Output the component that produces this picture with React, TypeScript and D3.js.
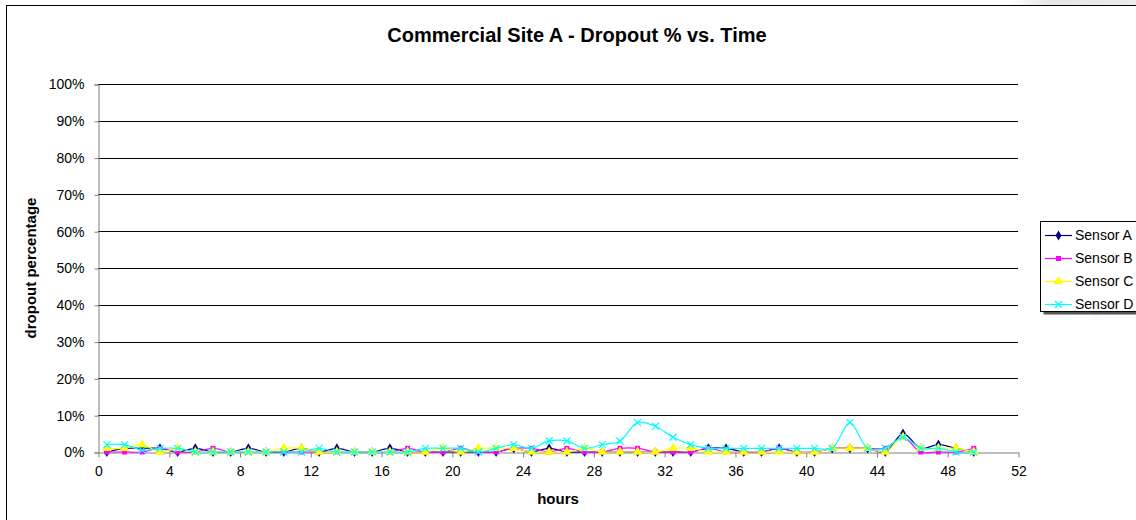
import React, { useRef, useEffect } from "react";
import * as d3 from "d3";

const hours = [
    0.5, 1.5, 2.5, 3.5, 4.5, 5.5, 6.5, 7.5, 8.5, 9.5,
    10.5, 11.5, 12.5, 13.5, 14.5, 15.5, 16.5, 17.5, 18.5, 19.5,
    20.5, 21.5, 22.5, 23.5, 24.5, 25.5, 26.5, 27.5, 28.5, 29.5,
    30.5, 31.5, 32.5, 33.5, 34.5, 35.5, 36.5, 37.5, 38.5, 39.5,
    40.5, 41.5, 42.5, 43.5, 44.5, 45.5, 46.5, 47.5, 48.5, 49.5,
];

const sensorA = [
    0, 1, 1, 1, 0, 1, 0, 0, 1, 0,
    0, 1, 0, 1, 0, 0, 1, 0, 0, 0,
    0, 0, 0, 1, 0, 1, 0, 0, 0, 0,
    0, 0, 0, 0, 1, 1, 0, 0, 1, 0,
    0, 1, 1, 1, 0, 5, 1, 2, 1, 0,
];
const sensorB = [
    0, 0, 0, 1, 0, 0, 1, 0, 0, 0,
    0, 0, 0, 0, 0, 0, 0, 1, 0, 0,
    1, 0, 0, 1, 1, 0, 1, 0, 0, 1,
    1, 0, 0, 0, 1, 0, 0, 0, 1, 0,
    0, 1, 1, 1, 1, 4, 0, 0, 0, 1,
];
const sensorC = [
    1, 1, 2, 0, 1, 0, 0, 0, 0, 0,
    1, 1, 0, 0, 0, 0, 0, 0, 0, 1,
    0, 1, 1, 1, 0, 0, 0, 1, 0, 0,
    0, 0, 1, 1, 0, 0, 0, 0, 0, 0,
    0, 1, 1, 1, 0, 4, 1, 1, 1, 0,
];
const sensorD = [
    2, 2, 0.5, 1, 1, 0, 0, 0, 0, 0,
    0, 0, 1, 0, 0, 0, 0, 0, 1, 1,
    1, 0, 1, 2, 1, 3, 3, 1, 2, 3,
    8, 7, 4, 2, 1, 1, 1, 1, 1, 1,
    1, 1, 8, 1, 1, 4, 1, 1, 0, 0,
];

const seriesNames = ["Sensor A", "Sensor B", "Sensor C", "Sensor D"];
const xTicks = [0, 4, 8, 12, 16, 20, 24, 28, 32, 36, 40, 44, 48, 52];
const yTicks = [0, 10, 20, 30, 40, 50, 60, 70, 80, 90, 100];

const colors = ["#000080", "#FF00FF", "#FFFF00", "#00FFFF"];
const symbols = [d3.symbolDiamond, d3.symbolSquare, d3.symbolTriangle];

export default function App() {
    const svgRef = useRef(null);

    useEffect(() => {
        const width = 1136;
        const height = 520;
        const margin = { top: 84, right: 118, bottom: 68, left: 98 };
        const font = "Arial, 'Liberation Sans', sans-serif";

        const svg = d3.select(svgRef.current).attr("width", width).attr("height", height);
        svg.selectAll("*").remove();

        // top-right strip outside the chart frame
        const grad = svg.append("defs").append("linearGradient").attr("id", "strip");
        grad.append("stop").attr("offset", "0%").attr("stop-color", "#ffffff");
        grad.append("stop").attr("offset", "30%").attr("stop-color", "#e6e6e6");
        grad.append("stop").attr("offset", "100%").attr("stop-color", "#ececec");
        svg.append("rect").attr("x", 1010).attr("y", 0).attr("width", 126).attr("height", 5).attr("fill", "url(#strip)");

        // chart frame
        svg.append("rect")
            .attr("x", 6.5).attr("y", 5.5).attr("width", 1200).attr("height", 600)
            .attr("fill", "#fff").attr("stroke", "#000").attr("stroke-width", 1);

        const x = d3.scaleLinear().domain([0, 52]).range([margin.left, width - margin.right]);
        const y = d3.scaleLinear().domain([0, 100]).range([height - margin.bottom, margin.top]);

        // gridlines
        svg.append("g")
            .selectAll("line")
            .data(yTicks.filter((t) => t > 0))
            .join("line")
            .attr("x1", x(0)).attr("x2", x(52))
            .attr("y1", (d) => Math.round(y(d)) + 0.5).attr("y2", (d) => Math.round(y(d)) + 0.5)
            .attr("stroke", "#000").attr("stroke-width", 1);

        // y axis
        const yAxis = svg.append("g")
            .attr("transform", `translate(${x(0) + 0.5},0.5)`)
            .call(d3.axisLeft(y).tickValues(yTicks).tickSize(4).tickPadding(10).tickFormat((d) => `${d}%`));
        yAxis.selectAll("path, line").attr("stroke", "#808080");
        yAxis.selectAll("text").attr("font-family", font).attr("font-size", 14).attr("fill", "#000");

        // x axis
        const xAxis = svg.append("g")
            .attr("transform", `translate(0.5,${y(0) + 0.5})`)
            .call(d3.axisBottom(x).tickValues(xTicks).tickSize(5).tickPadding(9).tickSizeOuter(0));
        xAxis.select(".domain").attr("stroke", "#808080");
        xAxis.selectAll("line").attr("stroke", "#808080");
        xAxis.selectAll("text").attr("font-family", font).attr("font-size", 14).attr("fill", "#000");

        // titles
        svg.append("text")
            .attr("x", 577).attr("y", 42).attr("text-anchor", "middle")
            .attr("font-family", font).attr("font-size", 20).attr("font-weight", "bold")
            .text("Commercial Site A - Dropout % vs. Time");
        svg.append("text")
            .attr("x", (x(0) + x(52)) / 2).attr("y", 504).attr("text-anchor", "middle")
            .attr("font-family", font).attr("font-size", 15).attr("font-weight", "bold")
            .text("hours");
        svg.append("text")
            .attr("transform", `translate(36,${(y(0) + y(100)) / 2}) rotate(-90)`)
            .attr("text-anchor", "middle")
            .attr("font-family", font).attr("font-size", 15).attr("font-weight", "bold")
            .text("dropout percentage");

        const allSeries = [sensorA, sensorB, sensorC, sensorD];
        const line = d3.line<number>()
            .x((_, i) => x(hours[i]))
            .y((d) => y(d))
            .curve(d3.curveCatmullRom.alpha(0.5));

        const markerSize = [30, 25, 40];
        const drawMarker = (g: any, k: number, cx: number, cy: number) => {
            if (k === 3) {
                g.append("path")
                    .attr("transform", `translate(${cx},${cy})`)
                    .attr("d", "M-3.5,-3.5L3.5,3.5M-3.5,3.5L3.5,-3.5")
                    .attr("fill", "none").attr("stroke", colors[k]).attr("stroke-width", 1.2);
            } else {
                g.append("path")
                    .attr("transform", `translate(${cx},${cy})`)
                    .attr("d", d3.symbol().type(symbols[k]).size(markerSize[k])())
                    .attr("fill", colors[k]);
            }
        };

        allSeries.forEach((values, k) => {
            svg.append("path")
                .datum(values)
                .attr("fill", "none")
                .attr("stroke", colors[k])
                .attr("stroke-width", 1.2)
                .attr("d", line);

            const g = svg.append("g");
            values.forEach((v, i) => drawMarker(g, k, x(hours[i]), y(v)));
        });

        // legend
        const legend = svg.append("g");
        legend.append("rect")
            .attr("x", 1043.5).attr("y", 224.5).attr("width", 120).attr("height", 90)
            .attr("fill", "#555");
        legend.append("rect")
            .attr("x", 1040.5).attr("y", 221.5).attr("width", 120).attr("height", 90)
            .attr("fill", "#fff").attr("stroke", "#000");

        seriesNames.forEach((name, k) => {
            const ly = 235 + k * 23;
            legend.append("line")
                .attr("x1", 1045).attr("x2", 1072).attr("y1", ly + 0.5).attr("y2", ly + 0.5)
                .attr("stroke", colors[k]).attr("stroke-width", 1.2);
            drawMarker(legend, k, 1058.5, ly + 0.5);
            legend.append("text")
                .attr("x", 1075).attr("y", ly + 5)
                .attr("font-family", font).attr("font-size", 14)
                .text(name);
        });
    }, []);

    return (
        <svg ref={svgRef} style={{ position: "absolute", left: 0, top: 0, display: "block" }}></svg>
    );
}
